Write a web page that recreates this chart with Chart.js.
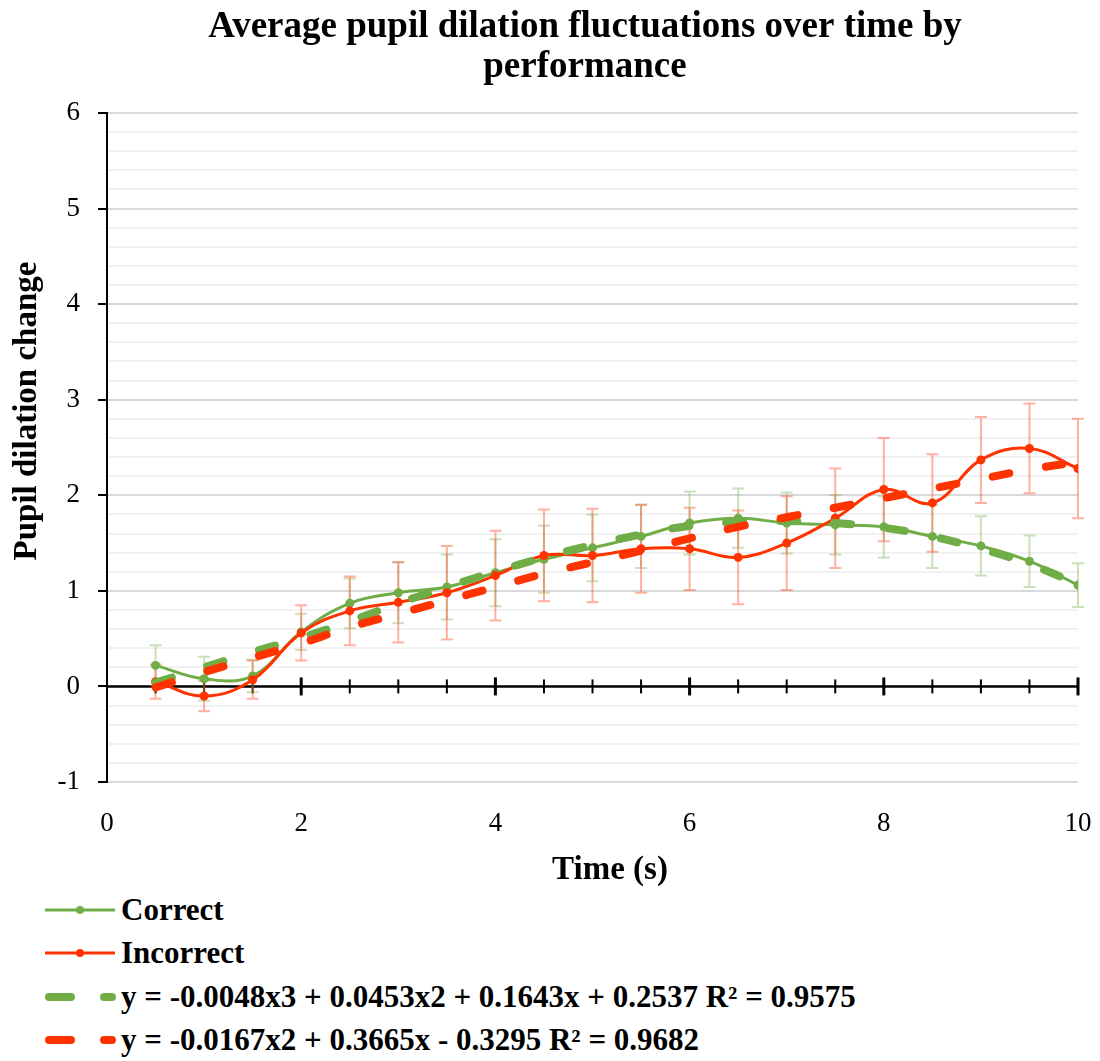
<!DOCTYPE html>
<html>
<head>
<meta charset="utf-8">
<script src="https://cdn.jsdelivr.net/npm/chart.js@4.4.1/dist/chart.umd.min.js"></script>
<style>
  html, body { margin: 0; padding: 0; background: #fff; }
  #wrap { position: relative; width: 1100px; height: 1061px; overflow: hidden; }
  #chartBox { position: absolute; left: 0; top: 0; width: 1100px; height: 890px; }
  .row { position: absolute; left: 0; height: 40px; display: flex; align-items: center; white-space: nowrap;
         font: bold 31px "Liberation Serif", serif; color: #000; }
  .row svg { margin-left: 44px; margin-right: 3px; }
</style>
</head>
<body>
<div id="wrap">
  <div id="chartBox"><canvas id="pupilChart"></canvas></div>
  <div id="legend"></div>
</div>
<script>
// ─── data ────────────────────────────────────────────────────────────────────
const timePoints     = [0.5, 1, 1.5, 2, 2.5, 3, 3.5, 4, 4.5, 5, 5.5, 6, 6.5, 7, 7.5, 8, 8.5, 9, 9.5, 10];
const correctMean    = [0.22, 0.08, 0.11, 0.57, 0.87, 0.98, 1.04, 1.19, 1.33, 1.45, 1.57, 1.71, 1.76, 1.71, 1.69, 1.67, 1.57, 1.47, 1.31, 1.06];
const correctErr     = [0.21, 0.23, 0.17, 0.19, 0.26, 0.32, 0.34, 0.35, 0.35, 0.35, 0.33, 0.33, 0.31, 0.32, 0.31, 0.32, 0.33, 0.31, 0.27, 0.23];
const incorrectMean  = [0.05, -0.10, 0.07, 0.56, 0.79, 0.88, 0.98, 1.16, 1.37, 1.37, 1.44, 1.44, 1.35, 1.50, 1.76, 2.06, 1.92, 2.37, 2.49, 2.28];
const incorrectErr   = [0.18, 0.16, 0.20, 0.29, 0.36, 0.42, 0.49, 0.47, 0.48, 0.49, 0.46, 0.43, 0.49, 0.49, 0.52, 0.54, 0.51, 0.45, 0.47, 0.52];
const correctTrend   = [0.04, 0.20, 0.36, 0.51, 0.68, 0.87, 1.04, 1.20, 1.35, 1.48, 1.59, 1.68, 1.72, 1.73, 1.71, 1.66, 1.57, 1.44, 1.28, 1.07];
const incorrectTrend = [-0.01, 0.15, 0.30, 0.45, 0.62, 0.76, 0.90, 1.04, 1.18, 1.30, 1.42, 1.55, 1.67, 1.77, 1.87, 1.97, 2.07, 2.17, 2.27, 2.35];

const yTickStep  = 0.2;
const xTickStep  = 2;
const axisTicks  = 0.5;   // tick marks along the zero line

const GREEN = '#70AD47';
const RED   = '#FF3300';

const chartTitle = ['Average pupil dilation fluctuations over time by', 'performance'];
const xTitle = 'Time (s)';
const yTitle = 'Pupil dilation change';
const legendLabels = [
  'Correct',
  'Incorrect',
  'y = -0.0048x3 + 0.0453x2 + 0.1643x + 0.2537 R² = 0.9575',
  'y = -0.0167x2 + 0.3665x - 0.3295 R² = 0.9682',
];

const toPoints = arr => arr.map((v, i) => ({ x: timePoints[i], y: v }));
const isWhole  = v => Math.abs(v - Math.round(v)) < 1e-6;

const SERIF = '"Liberation Serif", "Times New Roman", serif';
Chart.defaults.font.family = SERIF;
Chart.defaults.color = '#000';

// zero line with crossing tick marks, like the Excel horizontal axis
const zeroAxisPlugin = {
  id: 'zeroAxis',
  beforeDatasetsDraw(chart) {
    const { ctx, scales: { x, y } } = chart;
    const y0 = y.getPixelForValue(0);
    ctx.save();
    ctx.strokeStyle = '#000';
    ctx.lineWidth = 2.5;
    ctx.beginPath();
    ctx.moveTo(x.getPixelForValue(0), y0);
    ctx.lineTo(x.getPixelForValue(10), y0);
    ctx.stroke();
    for (let t = axisTicks; t <= 10 + 1e-9; t += axisTicks) {
      const major = isWhole(t / xTickStep);
      const px = x.getPixelForValue(t);
      ctx.lineWidth = major ? 3 : 2;
      const h = major ? 9 : 7;
      ctx.beginPath();
      ctx.moveTo(px, y0 - h);
      ctx.lineTo(px, y0 + h);
      ctx.stroke();
    }
    ctx.restore();
  },
};

// vertical error bars with caps
const errorBarPlugin = {
  id: 'errorBars',
  beforeDatasetsDraw(chart) {
    const { ctx, scales: { x, y } } = chart;
    ctx.save();
    ctx.lineWidth = 2;
    chart.data.datasets.forEach(ds => {
      if (!ds.errors) return;
      ctx.strokeStyle = ds.errorColor;
      ds.data.forEach((p, i) => {
        const px  = x.getPixelForValue(p.x);
        const top = y.getPixelForValue(p.y + ds.errors[i]);
        const bot = y.getPixelForValue(p.y - ds.errors[i]);
        ctx.beginPath();
        ctx.moveTo(px, top); ctx.lineTo(px, bot);
        ctx.moveTo(px - 6, top); ctx.lineTo(px + 6, top);
        ctx.moveTo(px - 6, bot); ctx.lineTo(px + 6, bot);
        ctx.stroke();
      });
    });
    ctx.restore();
  },
};

// chart title and axis titles placed where Excel put them (a bit off centre)
const titlesPlugin = {
  id: 'titles',
  afterDraw(chart) {
    const { ctx, chartArea } = chart;
    ctx.save();
    ctx.fillStyle = '#000';
    ctx.textAlign = 'center';
    ctx.textBaseline = 'middle';

    ctx.font = 'bold 37px ' + SERIF;
    chartTitle.forEach((line, i) => ctx.fillText(line, 585, 27 + i * 40));

    ctx.font = 'bold 33px ' + SERIF;
    ctx.fillText(xTitle, chartArea.left + 503, chartArea.bottom + 88);
    ctx.translate(27, chartArea.top + 298);
    ctx.rotate(-Math.PI / 2);
    ctx.fillText(yTitle, 0, 0);
    ctx.restore();
  },
};

new Chart(document.getElementById('pupilChart'), {
  type: 'line',
  data: {
    datasets: [
      {
        label: legendLabels[0],
        data: toPoints(correctMean),
        errors: correctErr,
        errorColor: 'rgba(112, 173, 71, 0.38)',
        borderColor: GREEN,
        backgroundColor: GREEN,
        borderWidth: 3,
        pointRadius: 4.5,
        pointBorderWidth: 0,
        tension: 0.4,
        order: 4,
      },
      {
        label: legendLabels[1],
        data: toPoints(incorrectMean),
        errors: incorrectErr,
        errorColor: 'rgba(255, 70, 30, 0.42)',
        borderColor: RED,
        backgroundColor: RED,
        borderWidth: 3,
        pointRadius: 4.5,
        pointBorderWidth: 0,
        tension: 0.4,
        order: 3,
      },
      {
        label: legendLabels[2],
        data: toPoints(correctTrend),
        borderColor: GREEN,
        borderWidth: 8,
        borderDash: [17, 37],
        borderCapStyle: 'round',
        pointRadius: 0,
        tension: 0.4,
        order: 2,
      },
      {
        label: legendLabels[3],
        data: toPoints(incorrectTrend),
        borderColor: RED,
        borderWidth: 8,
        borderDash: [17, 37],
        borderCapStyle: 'round',
        pointRadius: 0,
        tension: 0.4,
        order: 1,
      },
    ],
  },
  options: {
    responsive: true,
    maintainAspectRatio: false,
    animation: false,
    layout: { padding: { left: 0, right: 0, top: 113, bottom: 0 } },
    plugins: {
      legend: { display: false },
      tooltip: { enabled: false },
      title: { display: false },
    },
    scales: {
      x: {
        type: 'linear',
        min: 0,
        max: 10,
        afterFit: s => { s.height = 108; s.paddingLeft = 0; s.paddingRight = 22; },
        ticks: { stepSize: xTickStep, padding: 26, color: '#000', font: { size: 27 } },
        grid: { display: false, drawTicks: false },
        border: { display: false },
      },
      y: {
        min: -1,
        max: 6,
        afterFit: s => { s.width = 107; },
        ticks: {
          stepSize: yTickStep,
          autoSkip: false,
          padding: 18,
          color: '#000',
          font: { size: 27 },
          callback: v => (isWhole(v) ? String(Math.round(v)) : ''),
        },
        grid: {
          color: c => (isWhole(c.tick.value) ? '#d9d9d9' : '#f1f1f1'),
          lineWidth: 2,
          tickLength: 9,
          tickWidth: 2,
          tickColor: c => (isWhole(c.tick.value) ? '#000' : 'rgba(0,0,0,0)'),
        },
        border: { display: true, color: '#000', width: 2 },
      },
    },
  },
  plugins: [zeroAxisPlugin, errorBarPlugin, titlesPlugin],
});

// ─── legend rows below the plot ──────────────────────────────────────────────
const legendRowsY = [890, 933, 977, 1020];
const legendSwatches = [
  { color: GREEN, dashed: false },
  { color: RED,   dashed: false },
  { color: GREEN, dashed: true },
  { color: RED,   dashed: true },
];
const legendEl = document.getElementById('legend');
legendLabels.forEach((text, i) => {
  const sw = legendSwatches[i];
  const svg = sw.dashed
    ? `<svg width="74" height="14"><line x1="5" y1="7" x2="68" y2="7" stroke="${sw.color}" stroke-width="8" stroke-linecap="round" stroke-dasharray="22 33"/></svg>`
    : `<svg width="74" height="14"><line x1="1" y1="7" x2="71" y2="7" stroke="${sw.color}" stroke-width="3"/><circle cx="36" cy="7" r="4" fill="${sw.color}"/></svg>`;
  const row = document.createElement('div');
  row.className = 'row';
  row.style.top = legendRowsY[i] + 'px';
  row.innerHTML = svg + '<span></span>';
  row.querySelector('span').textContent = text;
  legendEl.appendChild(row);
});
</script>
</body>
</html>
